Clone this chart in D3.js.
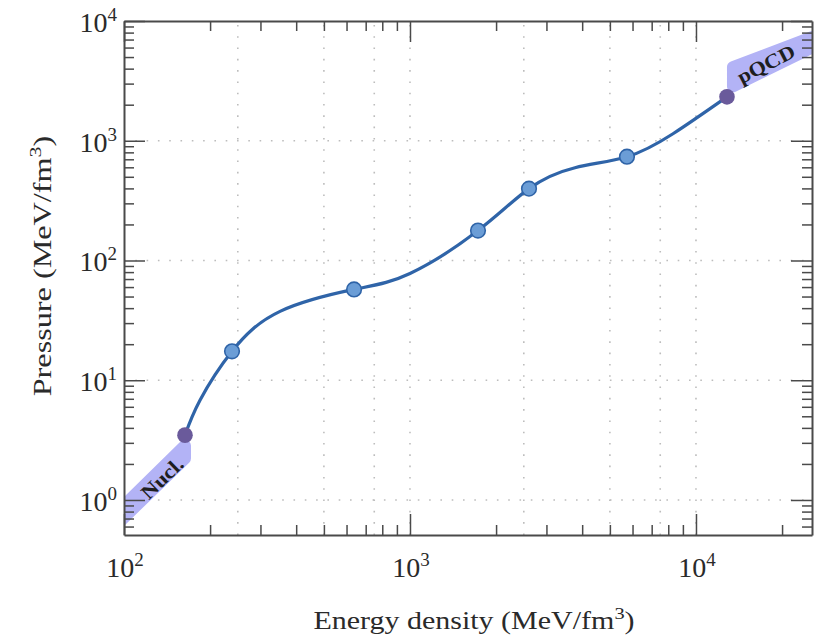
<!DOCTYPE html>
<html><head><meta charset="utf-8">
<script src="https://cdn.jsdelivr.net/npm/d3@7"></script>
<style>
  body { margin: 0; background: #fff; }
  svg { display: block; }
  svg text { font-family: "Liberation Serif", "DejaVu Serif", serif; }
</style>
</head><body>
<svg id="chart" width="821" height="641"></svg>
<script>
// Equation of state: pressure vs energy density, both in MeV/fm^3.
// Points along the interpolated EOS.
const curveEps = [163.4, 184.4, 238.6, 351.3, 637.3, 1000, 1729, 2607, 3775, 5737, 8311, 12835];
const curveP   = [3.48, 6.81, 17.45, 37.58, 57.33, 77.93, 177.8, 398.1, 595.7, 735.6, 1144, 2326];

// Interpolation nodes.
const nodeEps = [238.6, 637.3, 1729, 2607, 5737];
const nodeP   = [17.45, 57.33, 177.8, 398.1, 735.6];

// Matching points to nuclear theory and to pQCD.
const matchEps = [163.4, 12835];
const matchP   = [3.48, 2326];

// Uncertainty bands (polygon vertices, outlined with a wide round-joined stroke).
const nuclBandEps = [89.3, 163.4, 163.4, 89.3];
const nuclBandP   = [0.692, 2.846, 2.218, 0.5495];
const pqcdBandEps = [13470, 29410, 29410, 13470];
const pqcdBandP   = [4128, 8350, 7108, 2851];

// Band labels and their anchors.
const bandLabels   = ["Nucl.", "pQCD"];
const bandLabelEps = [135.8, 17570];
const bandLabelP   = [1.525, 4382];
const bandLabelRot = [-44, -27];

// Axes.
const xDomain = [100, 25450];
const yDomain = [0.51, 10000];
const xMajor = [1e2, 1e3, 1e4];
const xMajorExp = ["2", "3", "4"];
const yMajor = [1, 10, 100, 1000, 10000];
const yMajorExp = ["0", "1", "2", "3", "4"];
const xGrid = [250, 500, 750, 1000, 2500, 5000, 7500, 10000];
const yGrid = [1, 10, 100, 1000];
const xTitle = "Energy density (MeV/fm";
const yTitle = "Pressure (MeV/fm";

const L = 124, R = 812, T = 21, B = 535;
const svg = d3.select("#chart");
const x = d3.scaleLog().domain(xDomain).range([L, R]);
const y = d3.scaleLog().domain(yDomain).range([B, T]);

const axisColor = "#4a4a4a";
const textColor = "#2a2a2a";

svg.append("defs").append("clipPath").attr("id", "plot")
  .append("rect").attr("x", L).attr("y", T).attr("width", R - L).attr("height", B - T);

// Dotted grid
const grid = svg.append("g").attr("stroke", "#bdbdbd").attr("stroke-width", 1.6)
  .attr("stroke-dasharray", "1.6 9.7").attr("fill", "none");
grid.selectAll("line.gx").data(xGrid).join("line").attr("class", "gx")
  .attr("x1", d => x(d)).attr("x2", d => x(d)).attr("y1", B).attr("y2", T);
grid.selectAll("line.gy").data(yGrid).join("line").attr("class", "gy")
  .attr("y1", d => y(d)).attr("y2", d => y(d)).attr("x1", L).attr("x2", R);

// Bands
const bandColor = "#b3b3f6";
const poly = d3.line().x(d => x(d[0])).y(d => y(d[1])).curve(d3.curveLinearClosed);
const bands = svg.append("g").attr("clip-path", "url(#plot)");
[[nuclBandEps, nuclBandP], [pqcdBandEps, pqcdBandP]].forEach(([es, ps]) => {
  bands.append("path")
    .attr("d", poly(es.map((e, i) => [e, ps[i]])))
    .attr("fill", bandColor).attr("stroke", bandColor)
    .attr("stroke-width", 12).attr("stroke-linejoin", "round");
});

// EOS curve
const lineGen = d3.line().x(d => x(d[0])).y(d => y(d[1])).curve(d3.curveNatural);
svg.append("path")
  .attr("d", lineGen(curveEps.map((e, i) => [e, curveP[i]])))
  .attr("fill", "none").attr("stroke", "#2f64a8").attr("stroke-width", 3.2)
  .attr("stroke-linecap", "round");

// Nodes
svg.append("g").selectAll("circle").data(nodeEps.map((e, i) => [e, nodeP[i]])).join("circle")
  .attr("cx", d => x(d[0])).attr("cy", d => y(d[1])).attr("r", 7.3)
  .attr("fill", "#6b9dd6").attr("stroke", "#2f64a8").attr("stroke-width", 1.6);

// Matching points
svg.append("g").selectAll("circle").data(matchEps.map((e, i) => [e, matchP[i]])).join("circle")
  .attr("cx", d => x(d[0])).attr("cy", d => y(d[1])).attr("r", 7.8)
  .attr("fill", "#6a5a9b");

// Band labels
bandLabels.forEach((t, i) => {
  svg.append("text")
    .attr("transform", `translate(${x(bandLabelEps[i])},${y(bandLabelP[i])}) rotate(${bandLabelRot[i]}) scale(1.12,1)`)
    .attr("text-anchor", "middle").attr("dy", "0.35em")
    .attr("font-weight", "bold").attr("font-size", 20)
    .attr("fill", "#1e1e1e").text(t);
});

// Axes: major and minor ticks on all four sides, pointing inward
const xMinor = x.ticks().filter(v => !xMajor.includes(v));
const yMinor = y.ticks().filter(v => !yMajor.includes(v));
const axes = svg.append("g");
function drawAxis(gen, pos, vals, size, withDomain) {
  const g = axes.append("g").attr("transform", pos)
    .call(gen.tickValues(vals).tickSize(-size).tickSizeOuter(0).tickFormat(""));
  g.selectAll(".tick line").attr("stroke", axisColor).attr("stroke-width", 1.5);
  g.select(".domain").attr("stroke", axisColor).attr("stroke-width", 2)
    .attr("display", withDomain ? null : "none");
}
drawAxis(d3.axisBottom(x), `translate(0,${B})`, xMinor, 10, true);
drawAxis(d3.axisBottom(x), `translate(0,${B})`, xMajor, 21, false);
drawAxis(d3.axisTop(x), `translate(0,${T})`, xMinor, 10, true);
drawAxis(d3.axisTop(x), `translate(0,${T})`, xMajor, 21, false);
drawAxis(d3.axisLeft(y), `translate(${L},0)`, yMinor, 10, true);
drawAxis(d3.axisLeft(y), `translate(${L},0)`, yMajor, 21, false);
drawAxis(d3.axisRight(y), `translate(${R},0)`, yMinor, 10, true);
drawAxis(d3.axisRight(y), `translate(${R},0)`, yMajor, 21, false);

// Tick labels 10^n
function powerLabel(sel, exp) {
  sel.append("tspan").text("10");
  sel.append("tspan").attr("font-size", 19).attr("dy", -11).text(exp);
}
xMajor.forEach((v, i) => {
  const t = svg.append("text").attr("x", x(v) + 1).attr("y", B + 42)
    .attr("text-anchor", "middle").attr("font-size", 28).attr("fill", textColor);
  powerLabel(t, xMajorExp[i]);
});
yMajor.forEach((v, i) => {
  const t = svg.append("text").attr("x", L - 7).attr("y", y(v) + 11)
    .attr("text-anchor", "end").attr("font-size", 28).attr("fill", textColor);
  powerLabel(t, yMajorExp[i]);
});

// Axis titles (set slightly wide, like the tick-label face)
function title(sel, txt, fs) {
  sel.append("tspan").text(txt);
  sel.append("tspan").attr("font-size", fs * 0.68).attr("dy", -fs * 0.4).text("3");
  sel.append("tspan").attr("dy", fs * 0.4).text(")");
}
title(svg.append("text").attr("transform", "translate(474,629) scale(1.2,1)")
  .attr("text-anchor", "middle").attr("font-size", 25).attr("fill", textColor), xTitle, 25);
title(svg.append("text").attr("transform", "translate(51,266) rotate(-90) scale(1.24,1)")
  .attr("text-anchor", "middle").attr("font-size", 26).attr("fill", textColor), yTitle, 26);
</script>
</body></html>
